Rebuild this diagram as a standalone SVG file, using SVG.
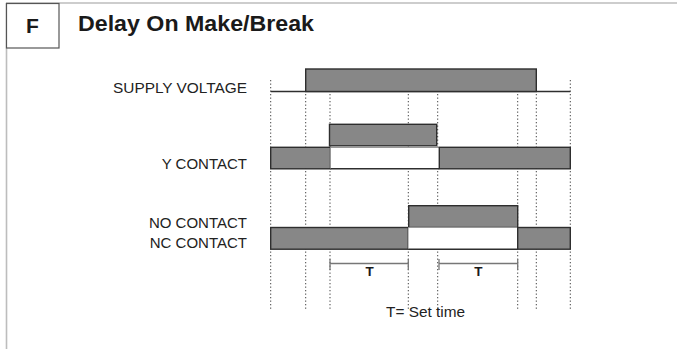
<svg xmlns="http://www.w3.org/2000/svg" width="677" height="349" viewBox="0 0 677 349">
<style>
.frame{stroke:#bdbdbd;stroke-width:1.6;fill:none}
.lbl{font-family:"Liberation Sans",Arial,sans-serif;font-size:15px;fill:#222}
.bold{font-family:"Liberation Sans",Arial,sans-serif;font-weight:bold;fill:#1a1a1a}
.hi{fill:#878787;stroke:#2e2e2e;stroke-width:1.4}
.guide{stroke:#444;stroke-width:1;stroke-dasharray:1.3 2.2;fill:none}
.tline{stroke:#777;stroke-width:1.3;fill:none}
.base{stroke:#2e2e2e;stroke-width:1.5;fill:none}
</style>
<rect width="677" height="349" fill="#ffffff"/>
<g id="frame">
<line class="frame" x1="6" y1="3" x2="677" y2="3"/>
<line class="frame" x1="6.5" y1="3" x2="6.5" y2="349"/>
</g>
<g id="header">
<rect x="6.5" y="3.5" width="52.5" height="44.5" fill="#fff" stroke="#555" stroke-width="1.2"/>
<text class="bold" x="32.5" y="33.3" font-size="21" text-anchor="middle">F</text>
<text class="bold" x="78" y="31" font-size="22" textLength="236" lengthAdjust="spacingAndGlyphs">Delay On Make/Break</text>
</g>
<g id="guides">
<line class="guide" x1="270.7" y1="80" x2="270.7" y2="311"/>
<line class="guide" x1="305.7" y1="80" x2="305.7" y2="311"/>
<line class="guide" x1="330" y1="80" x2="330" y2="311"/>
<line class="guide" x1="408.3" y1="80" x2="408.3" y2="311"/>
<line class="guide" x1="437.7" y1="80" x2="437.7" y2="311"/>
<line class="guide" x1="517.7" y1="80" x2="517.7" y2="311"/>
<line class="guide" x1="536.3" y1="80" x2="536.3" y2="311"/>
<line class="guide" x1="570.3" y1="80" x2="570.3" y2="311"/>
</g>
<g id="supply">
<text class="lbl" x="247" y="92.5" text-anchor="end" textLength="134" lengthAdjust="spacingAndGlyphs">SUPPLY VOLTAGE</text>
<line class="base" x1="270.7" y1="91.5" x2="570.3" y2="91.5"/>
<rect class="hi" x="305.7" y="69" width="230.6" height="22.5"/>
</g>
<g id="y-contact">
<text class="lbl" x="247" y="169.3" text-anchor="end">Y CONTACT</text>
<rect class="hi" x="329.5" y="124.3" width="107.2" height="21.5"/>
<rect class="hi" x="270.7" y="147.3" width="59.8" height="21.5"/>
<rect x="330.5" y="147.3" width="108.8" height="21.5" fill="#fff"/>
<line x1="330.5" y1="147.3" x2="439.3" y2="147.3" stroke="#999" stroke-width="1.2"/>
<line x1="330.5" y1="168.8" x2="439.3" y2="168.8" stroke="#2e2e2e" stroke-width="1.6"/>
<rect class="hi" x="439.3" y="147.3" width="131" height="21.5"/>
</g>
<g id="no-nc-contact">
<text class="lbl" x="247" y="228.3" text-anchor="end">NO CONTACT</text>
<text class="lbl" x="247" y="248.3" text-anchor="end">NC CONTACT</text>
<rect class="hi" x="408.7" y="205.7" width="109" height="21.8"/>
<rect class="hi" x="270.7" y="227.5" width="137.6" height="21.7"/>
<rect x="408.3" y="227.5" width="109.4" height="21.7" fill="#fff"/>
<line x1="408.3" y1="227.5" x2="517.7" y2="227.5" stroke="#999" stroke-width="1.2"/>
<line x1="408.3" y1="249.2" x2="517.7" y2="249.2" stroke="#2e2e2e" stroke-width="1.6"/>
<rect class="hi" x="517.7" y="227.5" width="52.6" height="21.7"/>
</g>
<g id="timing">
<line class="tline" x1="330" y1="263.5" x2="408.3" y2="263.5"/>
<line class="tline" x1="330" y1="259" x2="330" y2="270"/>
<line class="tline" x1="408.3" y1="259" x2="408.3" y2="270"/>
<text class="bold" x="369.5" y="276" font-size="13.5" text-anchor="middle">T</text>
<line class="tline" x1="439" y1="263.5" x2="517.7" y2="263.5"/>
<line class="tline" x1="439" y1="259" x2="439" y2="270"/>
<line class="tline" x1="517.7" y1="259" x2="517.7" y2="270"/>
<text class="bold" x="478.3" y="276" font-size="13.5" text-anchor="middle">T</text>
<text class="lbl" x="386" y="316.5" textLength="79" lengthAdjust="spacingAndGlyphs">T= Set time</text>
</g>
</svg>
